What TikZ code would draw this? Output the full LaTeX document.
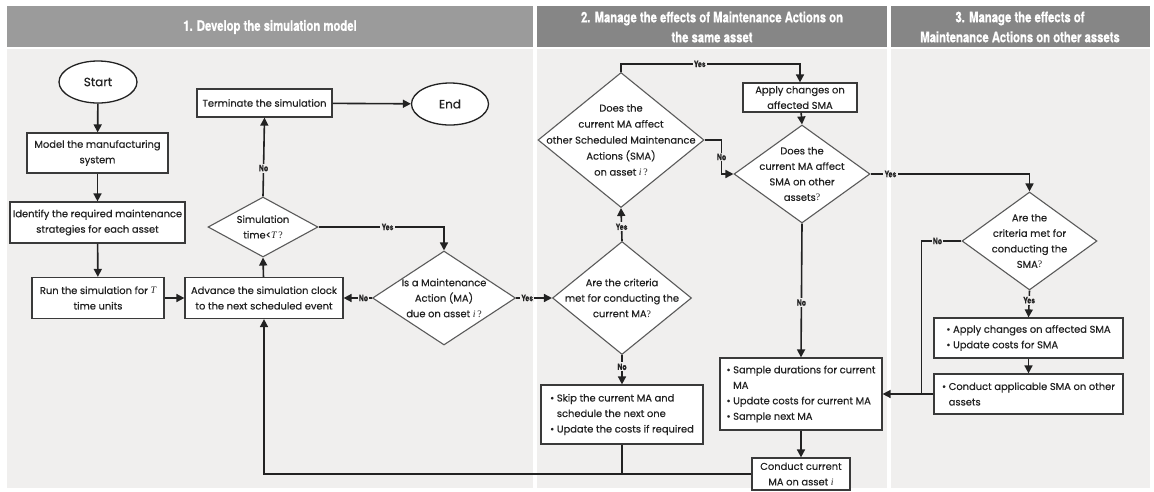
\documentclass[tikz,border=0pt]{standalone}
\usepackage{fontspec}
\setmainfont{Poppins}[FakeBold=0.35]
\newfontfamily\hdrfont[FakeStretch=0.78,FakeBold=0.6]{TeX Gyre Heros}
\newfontfamily\serifit{Liberation Serif}
\usetikzlibrary{shapes.geometric,arrows.meta}
\definecolor{hdrA}{HTML}{9B9B9B}
\definecolor{hdrB}{HTML}{868686}
\definecolor{panelbg}{HTML}{F0EFEE}
\definecolor{ink}{HTML}{222222}
\definecolor{boxln}{HTML}{3A3A3A}
\definecolor{dmln}{HTML}{5A5A5A}
\newcommand\vT{{\serifit\itshape T}}
\newcommand\vi{{\serifit\itshape i}}
\newcommand\qm{{\serifit ?}}
\newcommand\bfont{\fontsize{9.9}{15.5}\selectfont}
\newcommand\bul{\textbullet\ }
\newcommand\nob{\hphantom{\textbullet\ }}
\tikzset{
  box/.style={draw=boxln, line width=1.2pt, fill=white, inner sep=2pt, align=center, font=\bfont, text=ink},
  bbox/.style={box, align=left, inner sep=5pt},
  dm/.style={diamond, draw=dmln, line width=1.1pt, fill=white, inner sep=0pt},
  dtext/.style={align=center, font=\bfont, inner sep=0pt, text=ink},
  termin/.style={ellipse, draw=ink, line width=1.3pt, fill=white, font=\fontsize{12}{14}\selectfont, text=ink},
  conn/.style={draw=ink, line width=1.6pt},
  arr/.style={conn, -{Triangle[length=8pt,width=8pt]}},
  lab/.style={fill=panelbg, inner sep=1.2pt, font=\hdrfont\bfseries\fontsize{8.8}{9}\selectfont, text=ink},
  hdr/.style={text=white, align=center, font=\hdrfont\bfseries\fontsize{14.5}{20}\selectfont}
}
\begin{document}
\begin{tikzpicture}[x=1pt,y=-1pt]
\useasboundingbox (0,0) rectangle (1154,491);
\fill[white] (0,0) rectangle (1154,491);
% panels
\fill[panelbg] (7,48.5) rectangle (533,488);
\fill[panelbg] (537,48.5) rectangle (887,488);
\fill[panelbg] (891,48.5) rectangle (1150,488);
\fill[hdrA] (7,6) rectangle (533,47);
\fill[hdrB] (537,6) rectangle (887,47);
\fill[hdrB] (891,6) rectangle (1150,47);
\node[hdr] (h1) at (270,27) {1. Develop the simulation model};
\node[hdr] (h2) at (712,27) {2. Manage the effects of Maintenance Actions on\\the same asset};
\node[hdr] (h3) at (1020,27) {3. Manage the effects of\\Maintenance Actions on other assets};
% nodes
\node[termin, minimum width=78pt, minimum height=42pt] (start) at (98,82) {Start};
\node[box, minimum width=141pt, minimum height=40pt] (model) at (97.5,153) {Model the manufacturing\\system};
\node[box, minimum width=175pt, minimum height=41pt] (ident) at (97.5,222.5) {Identify the required maintenance\\strategies for each asset};
\node[box, minimum width=132pt, minimum height=41pt] (run) at (98,298) {Run the simulation for \vT\\time units};
\node[box, minimum width=158pt, minimum height=41pt] (adv) at (264,298) {Advance the simulation clock\\to the next scheduled event};
\node[dm, minimum width=110pt, minimum height=60pt] (simd) at (263,227) {};
\node[dtext] (simt) at (simd) {Simulation\\time<\vT\,\qm};
\node[box, minimum width=135pt, minimum height=28pt] (termn) at (264.5,103) {Terminate the simulation};
\node[termin, minimum width=77pt, minimum height=42pt] (endn) at (450,104) {End};
\node[dm, minimum width=143pt, minimum height=94pt] (mad) at (444,298) {};
\node[dtext] (madt) at (mad) {Is a Maintenance\\Action (MA)\\due on asset \vi\,\qm};
\node[dm, minimum width=139pt, minimum height=113pt] (crit) at (622,298) {};
\node[dtext] (critt) at (crit) {Are the criteria\\met for conducting the\\current MA\qm};
\node[dm, minimum width=166pt, minimum height=135pt] (aff1) at (621,140) {};
\node[dtext, font=\fontsize{9.9}{16}\selectfont] (aff1t) at (aff1) {Does the\\current MA affect\\other Scheduled Maintenance\\Actions (SMA)\\on asset \vi\,\qm};
\node[box, minimum width=114pt, minimum height=29pt] (apply) at (800,97.5) {Apply changes on\\affected SMA};
\node[dm, minimum width=136pt, minimum height=98pt] (aff2) at (802,174) {};
\node[dtext] (aff2t) at (aff2.center) {Does the\\current MA affect\\SMA on other\\assets\qm};
\node[bbox, minimum width=162pt, minimum height=59pt] (skip) at (622,414.5) {\bul Skip the current MA and\\\nob schedule the next one\\\bul Update the costs if required};
\node[bbox, minimum width=162pt, minimum height=72pt] (sample) at (801,394) {\bul Sample durations for current\\\nob MA\\\bul Update costs for current MA\\\bul Sample next MA};
\node[box, minimum width=98pt, minimum height=32pt] (cond) at (801,474) {Conduct current\\MA on asset \vi};
\node[dm, minimum width=135pt, minimum height=98pt] (smad) at (1029.5,241) {};
\node[dtext] (smadt) at (smad) {Are the\\criteria met for\\conducting the\\SMA\qm};
\node[bbox, minimum width=189pt, minimum height=40pt] (applyb) at (1028.5,338) {\bul Apply changes on affected SMA\\\bul Update costs for SMA};
\node[bbox, minimum width=189pt, minimum height=40pt] (condb) at (1028.5,394) {\bul Conduct applicable SMA on other\\\nob assets};
% connectors
\draw[arr] (start) -- (model);
\draw[arr] (model) -- (ident);
\draw[arr] (ident) -- (run);
\draw[arr] (run) -- (adv);
\draw[arr] (adv) -- (simd.south);
\draw[arr] (simd.north) -- node[lab, pos=0.36]{No} (termn.south);
\draw[arr] (termn) -- (endn);
\draw[arr] (simd.east) -- node[lab, pos=0.55]{Yes} (simd.east -| mad.north) -- (mad.north);
\draw[arr] (mad.west) -- node[lab, pos=0.3]{No} (adv.east);
\draw[arr] (mad.east) -- node[lab, pos=0.31]{Yes} (crit.west);
\draw[arr] (crit.north) -- node[lab, pos=0.43]{Yes} (aff1.south);
\draw[arr] (crit.south) -- node[lab, pos=0.4]{No} (skip.north);
\draw[arr] (aff1.north) -- ++(0,-8) coordinate (a1t) -- node[lab, pos=0.44]{Yes} (a1t -| apply.north) -- (apply.north);
\draw[arr] (apply) -- (aff2.north);
\draw[arr] (aff1.east) -- ++(17,0) coordinate (a1e) -- node[lab, pos=0.5]{No} (a1e |- aff2.west) -- (aff2.west);
\draw[arr] (aff2.east) -- node[lab, pos=0.125]{Yes} (aff2.east -| smad.north) -- (smad.north);
\draw[arr] (aff2.south) -- node[lab, pos=0.59]{No} (sample.north);
\draw[arr] (sample) -- (cond);
\draw[arr] (smad.south) -- node[lab, pos=0.36]{Yes} (applyb.north);
\draw[arr] (applyb) -- (condb);
\draw[arr] (smad.west) -- node[lab, pos=0.6]{No} ++(-40,0) coordinate (sw) -- (sw |- sample.east) -- (sample.east);
\draw[conn] (condb.west) -- (sw |- condb.west);
\draw[arr] (cond.west) -- (cond.west -| adv.south) -- (adv.south);
\draw[conn] (skip.south) -- (skip.south |- cond.west);
\end{tikzpicture}
\end{document}
